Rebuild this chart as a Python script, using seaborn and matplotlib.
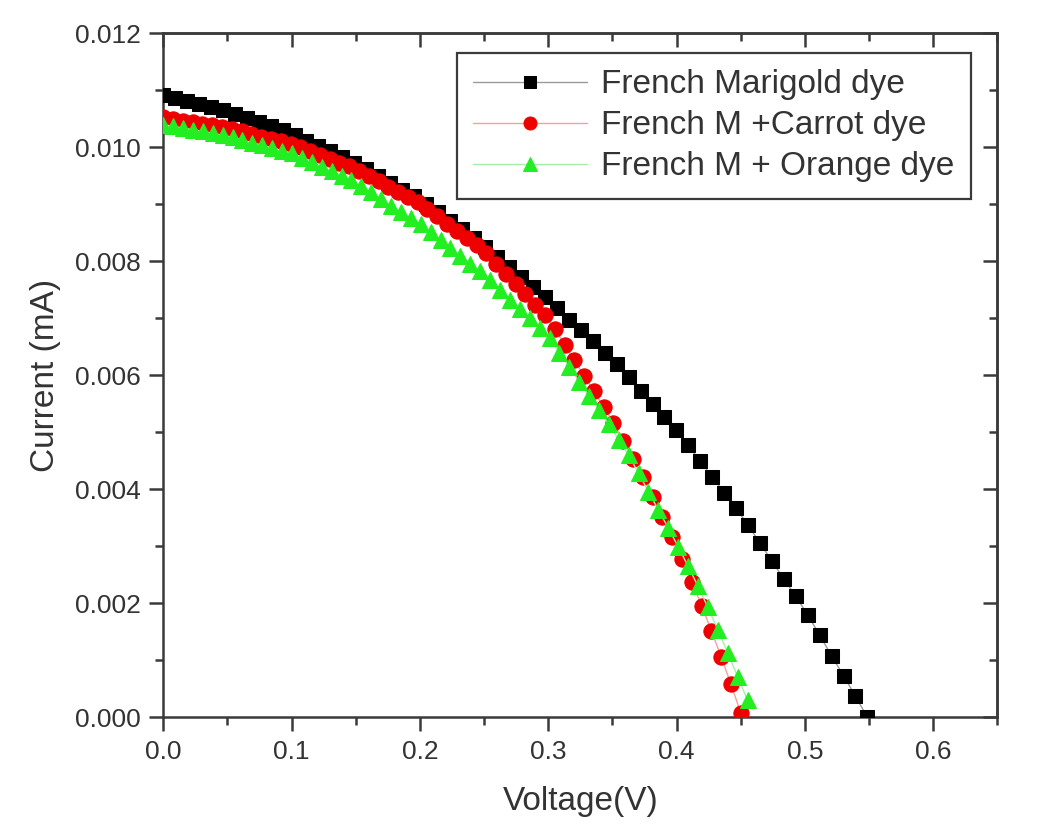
import matplotlib
matplotlib.use("Agg")
import matplotlib.pyplot as plt
from matplotlib.ticker import MultipleLocator, FormatStrFormatter
import seaborn as sns

sns.set_theme(style="ticks")
plt.rcParams['font.family'] = ['Liberation Sans', 'DejaVu Sans']

# ---- data ----
v_marigold = [0, 0.0093, 0.0186, 0.0279, 0.0372, 0.0465, 0.0558, 0.0651, 0.0744, 0.0837,
              0.093, 0.1023, 0.1116, 0.1209, 0.1302, 0.1395, 0.1488, 0.1581, 0.1674, 0.1767,
              0.186, 0.1953, 0.2046, 0.2139, 0.2232, 0.2325, 0.2418, 0.2511, 0.2604, 0.2697,
              0.279, 0.2883, 0.2976, 0.3069, 0.3162, 0.3255, 0.3348, 0.3441, 0.3534, 0.3627,
              0.372, 0.3813, 0.3906, 0.3999, 0.4092, 0.4185, 0.4278, 0.4371, 0.4464, 0.4557,
              0.465, 0.4743, 0.4836, 0.4929, 0.5022, 0.5115, 0.5208, 0.5301, 0.5394, 0.5487]
i_marigold = [0.01092, 0.01087, 0.01082, 0.01076, 0.01071, 0.01066, 0.01059, 0.01052, 0.01045, 0.01037,
              0.01030, 0.01022, 0.01012, 0.01002, 0.00993, 0.00983, 0.00973, 0.00962, 0.00950, 0.00938,
              0.00926, 0.00914, 0.00901, 0.00886, 0.00871, 0.00856, 0.00841, 0.00826, 0.00808, 0.00790,
              0.00772, 0.00755, 0.00737, 0.00718, 0.00698, 0.00679, 0.00660, 0.00640, 0.00620, 0.00597,
              0.00573, 0.00550, 0.00527, 0.00504, 0.00477, 0.00449, 0.00422, 0.00394, 0.00367, 0.00337,
              0.00306, 0.00274, 0.00243, 0.00212, 0.00180, 0.00144, 0.00108, 0.00073, 0.00037, 0.00000]

v_carrot = [0, 0.0076, 0.0153, 0.0229, 0.0305, 0.0381, 0.0458, 0.0534, 0.0610, 0.0686,
            0.0763, 0.0839, 0.0915, 0.0992, 0.1068, 0.1144, 0.1220, 0.1297, 0.1373, 0.1449,
            0.1525, 0.1602, 0.1678, 0.1754, 0.1830, 0.1907, 0.1983, 0.2059, 0.2136, 0.2212,
            0.2288, 0.2364, 0.2441, 0.2517, 0.2593, 0.2669, 0.2746, 0.2822, 0.2898, 0.2975,
            0.3051, 0.3127, 0.3203, 0.3280, 0.3356, 0.3432, 0.3508, 0.3585, 0.3661, 0.3737,
            0.3814, 0.3890, 0.3966, 0.4043, 0.4119, 0.4195, 0.4271, 0.4348, 0.4424, 0.4500]
i_carrot = [0.01053, 0.01050, 0.01047, 0.01044, 0.01041, 0.01039, 0.01036, 0.01032, 0.01028, 0.01024,
            0.01019, 0.01015, 0.01011, 0.01006, 0.01000, 0.00993, 0.00987, 0.00980, 0.00973, 0.00967,
            0.00959, 0.00950, 0.00941, 0.00931, 0.00922, 0.00913, 0.00904, 0.00892, 0.00879, 0.00866,
            0.00854, 0.00841, 0.00828, 0.00814, 0.00796, 0.00778, 0.00760, 0.00742, 0.00724, 0.00706,
            0.00682, 0.00654, 0.00627, 0.00599, 0.00572, 0.00544, 0.00517, 0.00485, 0.00454, 0.00421,
            0.00387, 0.00352, 0.00316, 0.00278, 0.00238, 0.00196, 0.00152, 0.00106, 0.00058, 0.00008]

v_orange = [0, 0.0077, 0.0154, 0.0232, 0.0309, 0.0386, 0.0463, 0.0540, 0.0617, 0.0695,
            0.0772, 0.0849, 0.0926, 0.1003, 0.1080, 0.1158, 0.1235, 0.1312, 0.1389, 0.1466,
            0.1543, 0.1621, 0.1698, 0.1775, 0.1852, 0.1929, 0.2006, 0.2084, 0.2161, 0.2238,
            0.2315, 0.2392, 0.2469, 0.2547, 0.2624, 0.2701, 0.2778, 0.2855, 0.2932, 0.3010,
            0.3087, 0.3164, 0.3241, 0.3318, 0.3395, 0.3473, 0.3550, 0.3627, 0.3704, 0.3781,
            0.3858, 0.3936, 0.4013, 0.4090, 0.4167, 0.4244, 0.4321, 0.4399, 0.4476, 0.4553]
i_orange = [0.01040, 0.01037, 0.01034, 0.01031, 0.01028, 0.01025, 0.01021, 0.01018, 0.01013, 0.01008,
            0.01004, 0.00999, 0.00994, 0.00990, 0.00982, 0.00974, 0.00966, 0.00958, 0.00950, 0.00942,
            0.00932, 0.00921, 0.00909, 0.00898, 0.00887, 0.00876, 0.00865, 0.00851, 0.00837, 0.00824,
            0.00810, 0.00796, 0.00783, 0.00767, 0.00750, 0.00733, 0.00716, 0.00700, 0.00683, 0.00665,
            0.00640, 0.00615, 0.00589, 0.00564, 0.00539, 0.00514, 0.00487, 0.00460, 0.00428, 0.00396,
            0.00364, 0.00332, 0.00299, 0.00265, 0.00230, 0.00193, 0.00154, 0.00113, 0.00071, 0.00030]

labels = ["French Marigold dye", "French M +Carrot dye", "French M + Orange dye"]

fig = plt.figure(figsize=(10.4, 8.36), dpi=100)
ax = fig.add_axes([0.157, 0.142, 0.802, 0.818])

spine_col = '#3a3a3a'

sns.lineplot(x=v_marigold, y=i_marigold, ax=ax, color='#9a9a9a', linewidth=1,
             marker='s', markersize=10, markerfacecolor='black', markeredgecolor='black',
             label=labels[0], zorder=3)
sns.lineplot(x=v_carrot, y=i_carrot, ax=ax, color='#f4a0a0', linewidth=1,
             marker='o', markersize=11, markerfacecolor='#ee0000', markeredgecolor='#ee0000',
             label=labels[1], zorder=4)
sns.lineplot(x=v_orange, y=i_orange, ax=ax, color='#a8eea8', linewidth=1,
             marker='^', markersize=12, markerfacecolor='#22ee22', markeredgecolor='#22ee22',
             label=labels[2], zorder=5)

ax.set_xlim(0, 0.65)
ax.set_ylim(0, 0.012)
ax.xaxis.set_major_locator(MultipleLocator(0.1))
ax.xaxis.set_minor_locator(MultipleLocator(0.05))
ax.yaxis.set_major_locator(MultipleLocator(0.002))
ax.yaxis.set_minor_locator(MultipleLocator(0.001))
ax.xaxis.set_major_formatter(FormatStrFormatter('%.1f'))
ax.yaxis.set_major_formatter(FormatStrFormatter('%.3f'))

for s in ax.spines.values():
    s.set_color(spine_col)
    s.set_linewidth(1.8)
ax.tick_params(which='both', direction='out', color=spine_col, width=1.8,
               labelsize=19, labelcolor='#333333', pad=6)
ax.tick_params(which='major', length=10)
ax.tick_params(which='minor', length=6)

# inward ticks on the top and right borders
top = ax.secondary_xaxis('top')
top.xaxis.set_major_locator(MultipleLocator(0.1))
top.xaxis.set_minor_locator(MultipleLocator(0.05))
top.tick_params(which='both', direction='in', color=spine_col, width=1.8, labeltop=False)
top.tick_params(which='major', length=10)
top.tick_params(which='minor', length=6)
top.spines['top'].set_color(spine_col)
top.spines['top'].set_linewidth(1.8)
right = ax.secondary_yaxis('right')
right.yaxis.set_major_locator(MultipleLocator(0.002))
right.yaxis.set_minor_locator(MultipleLocator(0.001))
right.tick_params(which='both', direction='in', color=spine_col, width=1.8, labelright=False)
right.tick_params(which='major', length=10)
right.tick_params(which='minor', length=6)
right.spines['right'].set_color(spine_col)
right.spines['right'].set_linewidth(1.8)

ax.set_xlabel("Voltage(V)", fontsize=24, color='#333333', labelpad=16)
ax.set_ylabel("Current (mA)", fontsize=24, color='#333333', labelpad=10)

leg = ax.legend(loc='upper right', bbox_to_anchor=(0.968, 0.972), borderaxespad=0,
                fontsize=24, frameon=True, fancybox=False, edgecolor=spine_col,
                framealpha=1, handlelength=3.4, handletextpad=0.42, labelspacing=0.3,
                borderpad=0.5, markerscale=0.85)
leg.get_frame().set_linewidth(1.6)
for t in leg.get_texts():
    t.set_color('#333333')

fig.savefig("out.png", dpi=100, facecolor='white')
